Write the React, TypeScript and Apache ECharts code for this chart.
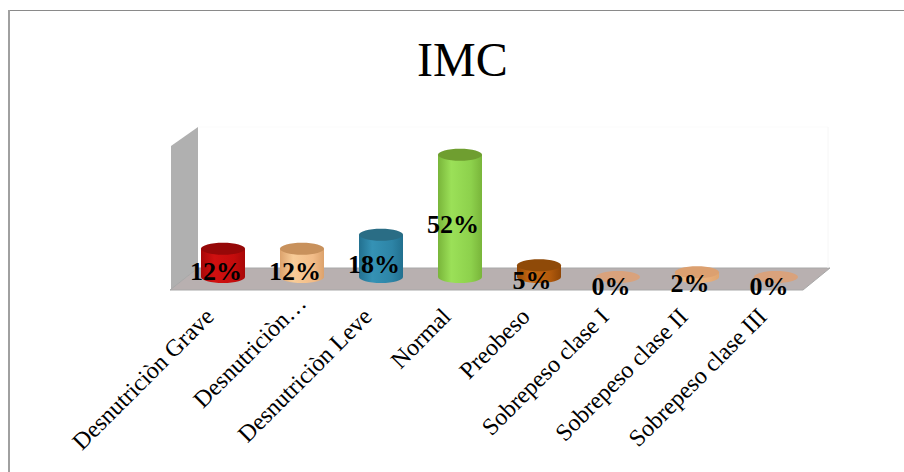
import React, { useEffect, useRef } from "react";
import * as echarts from "echarts";

const chartTitle = "IMC";
const categories = [
  "Desnutriciòn Grave",
  "Desnutriciòn…",
  "Desnutriciòn Leve",
  "Normal",
  "Preobeso",
  "Sobrepeso clase I",
  "Sobrepeso clase II",
  "Sobrepeso clase III",
];
const percentages = [12, 12, 18, 52, 5, 0, 2, 0];

// [edge, mid, highlight, top cap] for each cylinder
const barShades = [
  ["#a80808", "#d01010", "#c40c0c", "#960808"],
  ["#dca26c", "#f8cc98", "#f2bc88", "#c8915c"],
  ["#22708f", "#3592b5", "#2d84a6", "#2a6d85"],
  ["#79b53a", "#9be058", "#8dd14c", "#6f9e30"],
  ["#8f4606", "#c86a14", "#b25a0c", "#8f4a08"],
  ["#d9a27c", "#d9a27c", "#d9a27c", "#d9a27c"],
  ["#e0a670", "#f0bc88", "#e8ae7a", "#dca070"],
  ["#d9a27c", "#d9a27c", "#d9a27c", "#d9a27c"],
];

const SERIF = '"Liberation Serif", "Times New Roman", serif';
const RX = 22;
const RY = 6;

function renderCylinder(params: any, api: any) {
  const i = api.value(0);
  const v = api.value(1);
  const [cx, y0] = api.coord([i, 0]);
  const [, y1] = api.coord([i, v]);
  const [edge, mid, high, cap] = barShades[i];
  const side = {
    type: "linear",
    x: 0,
    y: 0,
    x2: 1,
    y2: 0,
    colorStops: [
      { offset: 0, color: edge },
      { offset: 0.3, color: mid },
      { offset: 0.75, color: high },
      { offset: 1, color: edge },
    ],
  };
  const labelY = (y0 + y1) / 2 + 9;
  const children: any[] = [];
  if (v > 0) {
    children.push(
      { type: "ellipse", shape: { cx, cy: y0, rx: RX, ry: RY }, style: { fill: side } },
      { type: "rect", shape: { x: cx - RX, y: y1, width: RX * 2, height: y0 - y1 }, style: { fill: side } },
    );
  }
  children.push(
    { type: "ellipse", shape: { cx, cy: y1, rx: RX, ry: RY }, style: { fill: cap } },
    {
      type: "text",
      style: {
        x: cx - 7,
        y: labelY,
        text: `${v}%`,
        fill: "#000",
        font: `bold 26px ${SERIF}`,
        align: "center",
        verticalAlign: "middle",
      },
    },
  );
  return { type: "group", children };
}

export default function App() {
  const ref = useRef<HTMLDivElement>(null);

  useEffect(() => {
    document.body.style.margin = "0";
    const chart = echarts.init(ref.current!, undefined, { renderer: "svg" });
    chart.setOption({
      animation: false,
      backgroundColor: "#ffffff",
      title: {
        text: chartTitle,
        left: 412,
        top: 30,
        textStyle: { fontFamily: SERIF, fontSize: 48, fontWeight: "normal", color: "#000" },
      },
      grid: { left: 183.5, width: 632, top: 136, height: 141 },
      xAxis: {
        type: "category",
        // the shortened label sits closer to the axis than the full-length ones
        data: categories.map((name) => ({
          value: name,
          textStyle: { padding: name.endsWith("…") ? [0, 0, 0, 0] : [0, 19, 0, 0] },
        })),
        axisLine: { show: false },
        axisTick: { show: false },
        axisLabel: {
          interval: 0,
          rotate: 45,
          margin: 22,
          fontFamily: SERIF,
          fontSize: 24,
          color: "#000",
        },
      },
      yAxis: { type: "value", min: 0, max: 60, show: false, splitLine: { show: false } },
      graphic: [
        // page frame
        { type: "rect", shape: { x: 8, y: 10, width: 896, height: 1 }, style: { fill: "#8a8a8a" } },
        { type: "rect", shape: { x: 8, y: 10, width: 2, height: 462 }, style: { fill: "#a0a0a0" } },
        // side wall
        {
          type: "polygon",
          shape: { points: [[171, 146], [198, 127], [198, 268], [171, 290]] },
          style: { fill: "#b0b0b0" },
        },
        // floor
        {
          type: "polygon",
          shape: { points: [[170, 290], [198, 268], [830, 268], [803, 290]] },
          style: { fill: "#b8b0b0", stroke: "#a8a8a8", lineWidth: 1 },
        },
        // back wall edges
        { type: "line", shape: { x1: 198, y1: 127, x2: 828, y2: 127 }, style: { stroke: "#fbfbfb", lineWidth: 1 } },
        { type: "line", shape: { x1: 828, y1: 127, x2: 828, y2: 268 }, style: { stroke: "#f6f6f6", lineWidth: 1 } },
      ],
      series: [
        {
          type: "custom",
          renderItem: renderCylinder,
          encode: { x: 0, y: 1 },
          data: percentages.map((v, i) => [i, v]),
          z: 3,
        },
      ],
    });
    return () => chart.dispose();
  }, []);

  return <div ref={ref} style={{ width: 904, height: 472 }} />;
}
